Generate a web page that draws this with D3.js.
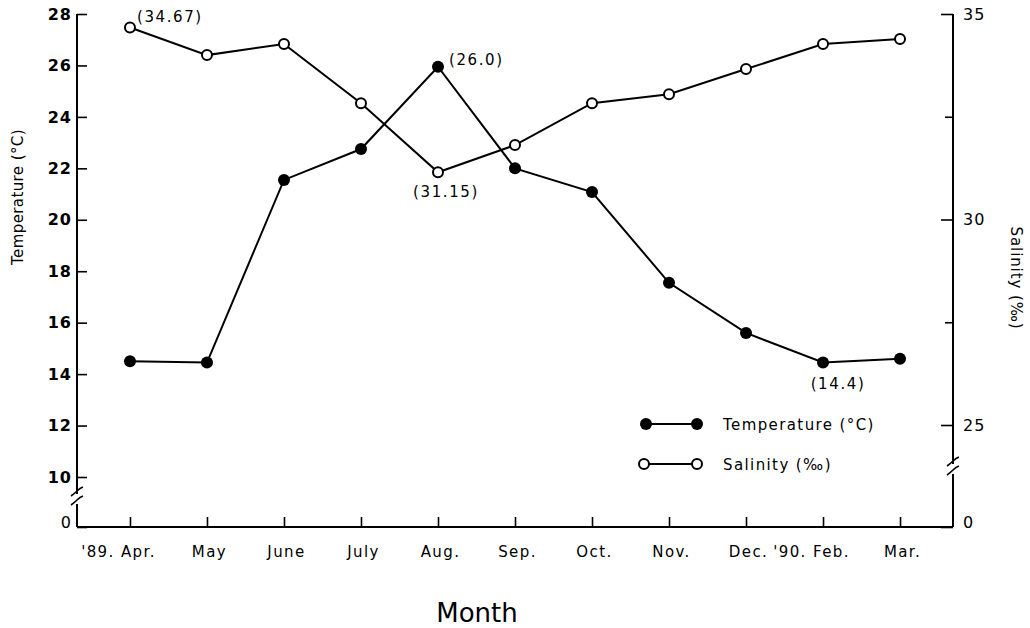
<!DOCTYPE html>
<html><head><meta charset="utf-8">
<script src="https://cdn.jsdelivr.net/npm/d3@7/dist/d3.min.js"></script>
<style>
html,body{margin:0;padding:0;background:#fff;}
text{font-family:"DejaVu Sans",sans-serif;fill:#000;}
</style></head>
<body><svg id="c" width="1030" height="628"></svg>
<script>
const months = ["Apr","May","June","July","Aug","Sep","Oct","Nov","Dec","Feb","Mar"];
const monthLabels = ["'89. Apr.","May","June","July","Aug.","Sep.","Oct.","Nov.","Dec.","'90. Feb.","Mar."];
const temperature = [14.5,14.45,21.55,22.75,25.95,22.0,21.08,17.55,15.6,14.45,14.6];
const salinity = [34.67,34.0,34.27,32.83,31.15,31.81,32.83,33.05,33.66,34.27,34.39];
const tempTicks = [0,10,12,14,16,18,20,22,24,26,28];
const salTicks = [0,25,27.5,30,32.5,35];
const annotations = [
  {series:"sal", month:"Apr", text:"(34.67)"},
  {series:"temp", month:"Aug", text:"(26.0)"},
  {series:"sal", month:"Aug", text:"(31.15)"},
  {series:"temp", month:"Feb", text:"(14.4)"}
];

const svg = d3.select("#c");
const L = 77, R = 953, T = 14, B = 527;
const x = d3.scalePoint().domain(months).range([L, R]).padding(0.688);
const yT = d3.scaleLinear().domain([0,10,28]).range([B,477,T]);
const yS = d3.scaleLinear().domain([0,25,35]).range([B,425,T]);

// axes
const gx = svg.append("g").attr("transform",`translate(0,${B})`)
  .call(d3.axisBottom(x).tickSize(-10).tickSizeOuter(0).tickPadding(19)
    .tickFormat((d,i)=>monthLabels[i]));
gx.select(".domain").remove();
gx.selectAll("text").style("font-size","15px").style("letter-spacing","1.4px")
  .attr("dx", function(d,i){ return monthLabels[i].startsWith("'") ? -12 : 2; });

const gl = svg.append("g").attr("transform",`translate(${L},0)`)
  .call(d3.axisLeft(yT).tickValues(tempTicks).tickSize(-10).tickSizeOuter(0).tickPadding(5));
gl.select(".domain").remove();
gl.selectAll("text").style("font-size","16px").style("font-weight","bold").style("letter-spacing","1px");
gl.selectAll(".tick").filter(d=>d===0).select("text").attr("dy","0.05em").style("font-weight","normal");

const gr = svg.append("g").attr("transform",`translate(${R},0)`)
  .call(d3.axisRight(yS).tickValues(salTicks).tickSize(-12).tickSizeOuter(0).tickPadding(10)
    .tickFormat(d=> Number.isInteger(d) ? d : ""));
gr.select(".domain").remove();
gr.selectAll(".tick").filter(d=>!Number.isInteger(d)).select("line").attr("x2",-8);
gr.selectAll("text").style("font-size","16px").style("letter-spacing","1px");
gr.selectAll(".tick").filter(d=>d===0).select("text").attr("dy","0.05em");
svg.selectAll(".tick line").attr("stroke","#000").attr("stroke-width",1.6);

// axis lines
const ax = svg.append("g").attr("stroke","#000").attr("stroke-width",2).attr("fill","none");
ax.append("line").attr("x1",L).attr("x2",R).attr("y1",B).attr("y2",B);
ax.append("line").attr("x1",L).attr("x2",L).attr("y1",T).attr("y2",494);
ax.append("line").attr("x1",L).attr("x2",L).attr("y1",504).attr("y2",B);
ax.append("line").attr("x1",R).attr("x2",R).attr("y1",T).attr("y2",464);
ax.append("line").attr("x1",R).attr("x2",R).attr("y1",474).attr("y2",B);
function brk(cx, cy){
  ax.append("path").attr("stroke-width",1.6)
    .attr("d",`M${cx-6},${cy-1} q3,-2 6,-5 t6,-4`);
  ax.append("path").attr("stroke-width",1.6)
    .attr("d",`M${cx-6},${cy+8} q3,-2 6,-5 t6,-4`);
}
brk(L, 497);
brk(R, 467);

// lines
const lineT = d3.line().x((d,i)=>x(months[i])).y(d=>yT(d));
const lineS = d3.line().x((d,i)=>x(months[i])).y(d=>yS(d));
svg.append("path").datum(temperature).attr("d",lineT).attr("fill","none").attr("stroke","#000").attr("stroke-width",2);
svg.append("path").datum(salinity).attr("d",lineS).attr("fill","none").attr("stroke","#000").attr("stroke-width",2);
svg.append("g").selectAll("circle").data(temperature).join("circle")
  .attr("cx",(d,i)=>x(months[i])).attr("cy",d=>yT(d)).attr("r",6).attr("fill","#000");
svg.append("g").selectAll("circle").data(salinity).join("circle")
  .attr("cx",(d,i)=>x(months[i])).attr("cy",d=>yS(d)).attr("r",5).attr("fill","#fff").attr("stroke","#000").attr("stroke-width",2);

// annotations
const off = {"sal-Apr":[7,-6,"start"],"temp-Aug":[11,-2,"start"],"sal-Aug":[8,25,"middle"],"temp-Feb":[15,26,"middle"]};
annotations.forEach(a=>{
  const i = months.indexOf(a.month);
  const px = x(a.month), py = a.series==="sal" ? yS(salinity[i]) : yT(temperature[i]);
  const o = off[a.series+"-"+a.month];
  svg.append("text").attr("x",px+o[0]).attr("y",py+o[1]).attr("text-anchor",o[2])
    .style("font-size","15px").style("letter-spacing","1.6px").text(a.text);
});

// legend
const lg = svg.append("g");
lg.append("line").attr("x1",646).attr("x2",697).attr("y1",424).attr("y2",424).attr("stroke","#000").attr("stroke-width",2);
[646,697].forEach(cx=>lg.append("circle").attr("cx",cx).attr("cy",424).attr("r",6).attr("fill","#000"));
lg.append("text").attr("x",723).attr("y",430).style("font-size","15px").style("letter-spacing","1.4px").text("Temperature (°C)");
lg.append("line").attr("x1",644).attr("x2",697).attr("y1",464).attr("y2",464).attr("stroke","#000").attr("stroke-width",2);
[644,697].forEach(cx=>lg.append("circle").attr("cx",cx).attr("cy",464).attr("r",5).attr("fill","#fff").attr("stroke","#000").attr("stroke-width",2));
lg.append("text").attr("x",723).attr("y",470).style("font-size","15px").style("letter-spacing","1.4px").text("Salinity (‰)");

// titles
svg.append("text").attr("transform","translate(23,197) rotate(-90)").attr("text-anchor","middle")
  .style("font-size","15px").style("letter-spacing","0.4px").text("Temperature (°C)");
svg.append("text").attr("transform","translate(1011,278) rotate(90)").attr("text-anchor","middle")
  .style("font-size","15px").style("letter-spacing","0.9px").text("Salinity (‰)");
svg.append("text").attr("x",477).attr("y",622).attr("text-anchor","middle")
  .style("font-size","26px").text("Month");
</script></body></html>
